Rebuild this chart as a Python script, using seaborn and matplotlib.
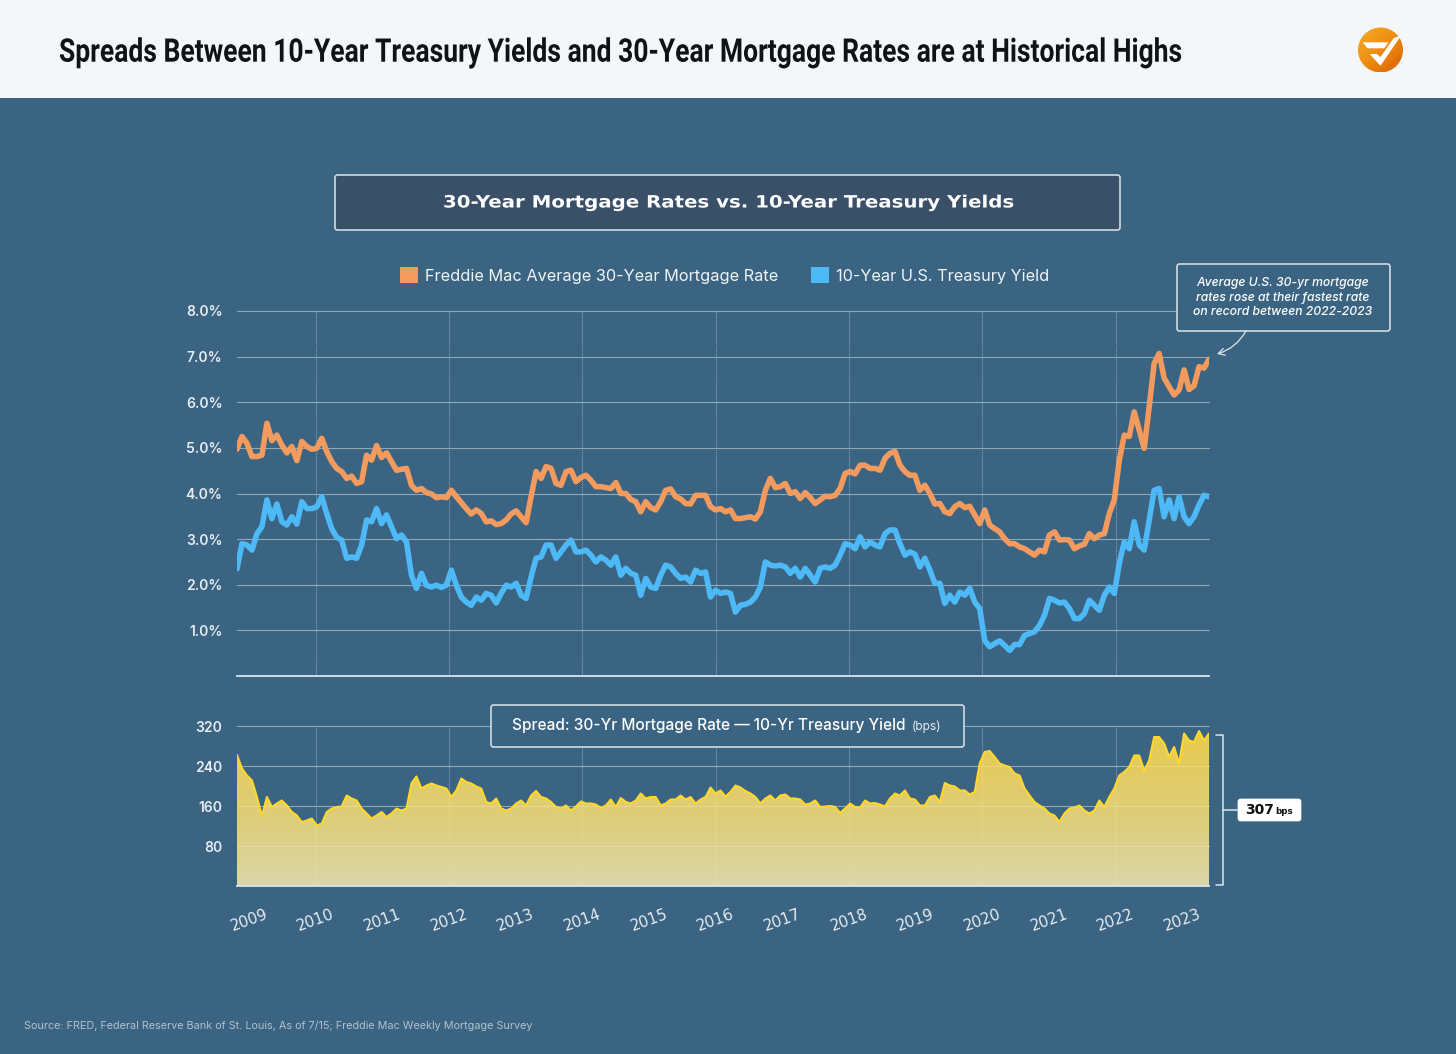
#!/usr/bin/env python3
# coding: utf-8
"""Mortgage rates vs treasury yields, with the spread panel underneath."""
import matplotlib as mpl
import matplotlib.pyplot as plt
import numpy as np
import seaborn as sns
from matplotlib.colors import LinearSegmentedColormap
from matplotlib.patches import Circle, FancyBboxPatch, Patch, PathPatch, Polygon, Rectangle
from matplotlib.patheffects import AbstractPathEffect
from matplotlib.transforms import Affine2D

mpl.use("Agg")

W, H = 1456, 1054
BG = "#3A6482"
ORANGE = "#F39B5E"
BLUE = "#4DB9F7"
YELLOW = "#FFD82A"
GRID = "#8FA8BA"
LIGHT = "#E6ECF1"

# x axis runs a little before the first label and after the last one
X_START, X_END = 2008.82, 2023.40

YEARS = list(range(2009, 2024))
GRID_YEARS = [2010, 2012, 2014, 2016, 2018, 2020, 2022]
RATE_TICKS = [1, 2, 3, 4, 5, 6, 7, 8]
SPREAD_TICKS = [80, 160, 240, 320]

MORTGAGE = [
    4.97, 5.25, 5.10, 4.81, 4.81, 4.84, 5.54, 5.16, 5.28, 5.06, 4.89, 5.03, 4.72, 5.14, 5.03, 4.97,
    4.99, 5.21, 4.92, 4.70, 4.55, 4.48, 4.33, 4.38, 4.22, 4.26, 4.84, 4.73, 5.05, 4.79, 4.89, 4.70,
    4.51, 4.53, 4.55, 4.18, 4.07, 4.11, 4.02, 3.99, 3.91, 3.93, 3.91, 4.07, 3.93, 3.80, 3.67, 3.55,
    3.64, 3.56, 3.38, 3.40, 3.32, 3.34, 3.42, 3.55, 3.62, 3.49, 3.36, 3.93, 4.48, 4.33, 4.59, 4.55,
    4.22, 4.18, 4.48, 4.51, 4.26, 4.35, 4.40, 4.29, 4.15, 4.15, 4.13, 4.11, 4.24, 4.00, 4.00, 3.87,
    3.82, 3.60, 3.82, 3.69, 3.64, 3.82, 4.07, 4.10, 3.93, 3.88, 3.78, 3.77, 3.96, 3.96, 3.96, 3.71,
    3.64, 3.67, 3.60, 3.64, 3.45, 3.45, 3.47, 3.49, 3.44, 3.60, 4.07, 4.33, 4.13, 4.15, 4.22, 4.00,
    4.04, 3.89, 4.02, 3.91, 3.78, 3.86, 3.94, 3.93, 3.96, 4.11, 4.44, 4.48, 4.43, 4.62, 4.62, 4.55,
    4.55, 4.51, 4.77, 4.88, 4.92, 4.62, 4.48, 4.40, 4.40, 4.07, 4.18, 4.00, 3.77, 3.78, 3.60, 3.56,
    3.71, 3.78, 3.69, 3.72, 3.53, 3.34, 3.64, 3.31, 3.23, 3.16, 3.01, 2.90, 2.90, 2.83, 2.79, 2.72,
    2.65, 2.76, 2.72, 3.09, 3.16, 2.98, 2.99, 2.98, 2.79, 2.85, 2.89, 3.12, 3.01, 3.09, 3.12, 3.56,
    3.86, 4.73, 5.28, 5.25, 5.79, 5.39, 4.99, 5.90, 6.85, 7.07, 6.53, 6.34, 6.16, 6.27, 6.71, 6.28,
    6.36, 6.78, 6.75, 6.94,
]

TREASURY = [
    2.35, 2.90, 2.87, 2.76, 3.12, 3.27, 3.86, 3.45, 3.77, 3.38, 3.31, 3.49, 3.33, 3.82, 3.67, 3.67,
    3.71, 3.93, 3.56, 3.23, 3.04, 2.98, 2.58, 2.61, 2.58, 2.87, 3.42, 3.38, 3.67, 3.34, 3.53, 3.27,
    3.01, 3.09, 2.94, 2.21, 1.92, 2.25, 1.99, 1.95, 1.99, 1.94, 1.99, 2.32, 1.99, 1.73, 1.62, 1.55,
    1.73, 1.66, 1.81, 1.77, 1.60, 1.81, 1.99, 1.95, 2.03, 1.77, 1.70, 2.17, 2.58, 2.61, 2.87, 2.87,
    2.58, 2.72, 2.87, 2.98, 2.72, 2.72, 2.76, 2.65, 2.50, 2.61, 2.54, 2.43, 2.61, 2.21, 2.36, 2.25,
    2.21, 1.77, 2.14, 1.95, 1.92, 2.21, 2.43, 2.39, 2.25, 2.14, 2.17, 2.06, 2.32, 2.25, 2.28, 1.73,
    1.88, 1.81, 1.84, 1.81, 1.40, 1.55, 1.57, 1.62, 1.73, 1.95, 2.50, 2.43, 2.41, 2.43, 2.39, 2.25,
    2.36, 2.17, 2.36, 2.21, 2.06, 2.36, 2.39, 2.36, 2.43, 2.65, 2.90, 2.87, 2.79, 3.05, 2.83, 2.94,
    2.87, 2.83, 3.12, 3.20, 3.20, 2.90, 2.65, 2.72, 2.67, 2.39, 2.58, 2.32, 2.03, 2.03, 1.59, 1.77,
    1.62, 1.84, 1.77, 1.92, 1.62, 1.48, 0.78, 0.64, 0.71, 0.77, 0.67, 0.56, 0.69, 0.69, 0.89, 0.93,
    0.97, 1.11, 1.33, 1.70, 1.66, 1.60, 1.62, 1.48, 1.26, 1.26, 1.37, 1.66, 1.55, 1.44, 1.77, 1.95,
    1.81, 2.47, 2.94, 2.79, 3.38, 2.87, 2.76, 3.42, 4.07, 4.11, 3.49, 3.86, 3.45, 3.93, 3.49, 3.34,
    3.49, 3.75, 3.96, 3.93,
]

SPREAD = [
    262, 235, 221, 211, 178, 140, 178, 158, 165, 171, 161, 148, 141, 128, 131, 135, 121, 125, 148,
    155, 158, 159, 181, 175, 171, 155, 145, 135, 141, 148, 138, 145, 155, 151, 155, 205, 219, 195,
    201, 205, 201, 198, 195, 178, 191, 215, 208, 205, 199, 195, 168, 165, 175, 155, 151, 155, 165,
    171, 161, 181, 190, 178, 175, 168, 158, 155, 161, 151, 159, 169, 165, 165, 163, 156, 161, 173,
    158, 176, 168, 165, 171, 185, 175, 178, 178, 161, 165, 173, 173, 181, 173, 178, 165, 173, 178,
    197, 185, 191, 179, 188, 201, 197, 190, 185, 178, 165, 175, 181, 171, 181, 183, 175, 175, 173,
    163, 165, 171, 158, 159, 160, 158, 146, 155, 165, 158, 157, 171, 165, 166, 163, 159, 175, 185,
    181, 191, 175, 173, 161, 161, 178, 181, 168, 206, 201, 199, 191, 191, 183, 188, 245, 268, 270,
    258, 245, 241, 238, 225, 221, 195, 181, 168, 161, 155, 145, 141, 128, 145, 155, 157, 161, 151,
    145, 151, 171, 158, 178, 195, 221, 228, 238, 261, 261, 231, 251, 298, 298, 285, 258, 278, 245,
    305, 291, 288, 310, 291, 305,
]

sns.set_style("ticks")
plt.rcParams["font.family"] = ["Inter", "DejaVu Sans"]


class StretchText(AbstractPathEffect):
    """Scale drawn glyphs about a display point, no condensed or extended font is installed."""

    def __init__(self, x0, y0, sx, sy):
        super().__init__()
        self._scale = Affine2D().translate(-x0, -y0).scale(sx, sy).translate(x0, y0)

    def draw_path(self, renderer, gc, tpath, affine, rgbFace=None):
        renderer.draw_path(gc, tpath, affine + self._scale, rgbFace)


def setup_axis(ax, ymax, ticks):
    ax.set_facecolor("none")
    ax.set_xlim(X_START, X_END)
    ax.set_ylim(0, ymax)
    ax.set_yticks(ticks)
    ax.tick_params(axis="y", length=0, pad=10.5, labelsize=10, labelcolor=LIGHT)
    ax.grid(axis="y", color=GRID, linewidth=0.8)
    for line in ax.get_ygridlines():
        line.set_clip_on(False)
    ax.vlines(GRID_YEARS, 0, ticks[-1], color=GRID, linewidth=0.7, linestyle=(0, (1, 1)), zorder=1)
    sns.despine(ax=ax, left=True)
    ax.spines["bottom"].set_color("#DCE5EB")
    ax.spines["bottom"].set_linewidth(1.3)
    ax.set_xlabel("")
    ax.set_ylabel("")


def rate_panel(fig):
    ax = fig.add_axes([237 / W, 1 - 676 / H, 972 / W, 365 / H])
    years = np.linspace(X_START, X_END, len(MORTGAGE))
    sns.lineplot(x=years, y=MORTGAGE, color=ORANGE, linewidth=4, ax=ax, zorder=3)
    sns.lineplot(x=years, y=TREASURY, color=BLUE, linewidth=4, ax=ax, zorder=3)
    setup_axis(ax, 8, RATE_TICKS)
    ax.set_yticks(RATE_TICKS, [f"{t:.1f}%" for t in RATE_TICKS], fontweight="semibold")
    ax.set_xticks([])
    return ax


def spread_panel(fig):
    ax = fig.add_axes([237 / W, 1 - 886 / H, 972 / W, 160 / H])
    years = np.linspace(X_START, X_END, len(SPREAD))
    setup_axis(ax, 320, SPREAD_TICKS)
    ax.set_yticks(SPREAD_TICKS, [str(t) for t in SPREAD_TICKS], fontweight="semibold")
    fill = ax.fill_between(years, SPREAD, 0, color="none", linewidth=0)
    cmap = LinearSegmentedColormap.from_list(
        "fade", ["#DCD6A9", "#DDCF82", "#E2CC66", "#EACB4C"]
    )
    grad = ax.imshow(
        np.linspace(0, 1, 256).reshape(-1, 1),
        cmap=cmap,
        origin="lower",
        aspect="auto",
        extent=(X_START, X_END, 0, 320),
        zorder=2,
    )
    patch = PathPatch(fill.get_paths()[0], transform=ax.transData, facecolor="none", edgecolor="none")
    ax.add_patch(patch)
    grad.set_clip_path(patch)
    # grid shows faintly through the fill
    faint = ax.hlines(SPREAD_TICKS, X_START, X_END, color="white", linewidth=0.8, alpha=0.22, zorder=2.5)
    faint.set_clip_path(patch)
    faint_v = ax.vlines(GRID_YEARS, 0, 320, color="white", linewidth=0.7, alpha=0.1, zorder=2.5)
    faint_v.set_clip_path(patch)
    sns.lineplot(x=years, y=SPREAD, color=YELLOW, linewidth=1.5, ax=ax, zorder=3)
    ax.set_xlim(X_START, X_END)
    ax.set_ylim(0, 320)
    ax.set_xticks(YEARS, [str(y) for y in YEARS], rotation=20, ha="center", rotation_mode="default")
    ax.tick_params(axis="x", length=0, pad=15, labelsize=11, labelcolor=LIGHT)
    for label in ax.get_xticklabels():
        label.set_fontfamily("DejaVu Sans")
    ax.vlines([X_END], 0, SPREAD[-1], color="#EFE9C8", linewidth=0.9, zorder=4)
    return ax


def rounded_box(ax, x0, y0, x1, y1, face, edge="#DDE6EC", lw=1.1, round_px=2.5, z=5):
    ax.add_patch(
        FancyBboxPatch(
            (x0, y0), x1 - x0, y1 - y0,
            boxstyle=f"round,pad=0,rounding_size={round_px}",
            facecolor=face, edgecolor=edge, linewidth=lw, zorder=z,
        )
    )


def draw_logo(ax, cx, cy, r):
    cmap = LinearSegmentedColormap.from_list("logo", ["#F3AE2A", "#EE8C12", "#DB6004"])
    ramp = np.linspace(0, 1, 64)
    img = ax.imshow(
        (ramp[:, None] + ramp[None, :]) / 2, cmap=cmap, aspect="auto",
        extent=(cx - r, cx + r, cy + r, cy - r), zorder=6,
    )
    disc = Circle((cx, cy), r, transform=ax.transData, facecolor="none", edgecolor="none")
    ax.add_patch(disc)
    img.set_clip_path(disc)
    # bar and check mark
    ax.add_patch(Polygon([(cx - 17.7, cy - 7.7), (cx + 8, cy - 7.7), (cx + 3.7, cy - 1.7), (cx - 13, cy - 1.7)],
                         facecolor="white", edgecolor="none", zorder=7))
    ax.add_patch(Polygon([(cx - 11, cy + 4), (cx - 3.7, cy + 4), (cx, cy + 7), (cx + 13, cy - 11.7),
                          (cx + 21, cy - 15), (cx, cy + 15.7)],
                         facecolor="white", edgecolor="none", zorder=7))


def decorations(fig):
    ax = fig.add_axes([0, 0, 1, 1], zorder=10)
    ax.set_axis_off()
    ax.patch.set_alpha(0)

    ax.add_patch(Rectangle((0, 0), W, 98, facecolor="#F4F7F9", edgecolor="none", zorder=1))
    title = ax.text(59, 61.7, "Spreads Between 10-Year Treasury Yields and 30-Year Mortgage Rates are at Historical Highs",
                    family="Roboto", fontweight="bold", fontsize=16.3,
                    color="#111215", va="baseline", ha="left", zorder=2)
    fig.canvas.draw()
    title_width = title.get_window_extent().width
    title.set_path_effects([StretchText(59, H - 61.7, 1124 / title_width, 1.44)])
    draw_logo(ax, 1380.5, 50, 22.5)

    rounded_box(ax, 335, 175, 1120, 230, "#3A5069")
    heading = ax.text(727.5, 207.5, "30-Year Mortgage Rates vs. 10-Year Treasury Yields", family="DejaVu Sans",
                      fontweight="bold", fontsize=12.2, color="white", ha="center", va="baseline", zorder=6)
    fig.canvas.draw()
    heading.set_path_effects([StretchText(727.5, H - 207.5, 569 / heading.get_window_extent().width, 1.0)])

    # annotation
    rounded_box(ax, 1177, 264, 1390, 331, BG)
    ax.text(1283, 297.5, "Average U.S. 30-yr mortgage\nrates rose at their fastest rate\non record between 2022-2023",
            fontstyle="italic", fontweight="medium", fontsize=8.75, color="white", ha="center", va="center",
            linespacing=1.27, zorder=6)
    ax.annotate("", xy=(1217, 354), xytext=(1246, 331),
                arrowprops=dict(arrowstyle="->,head_length=0.45,head_width=0.25", color="#DDE6EC", lw=0.9,
                                connectionstyle="arc3,rad=-0.2", shrinkA=0, shrinkB=0), zorder=6)

    # spread caption
    rounded_box(ax, 491, 705, 964, 747, BG)
    ax.text(512, 725.5, "Spread: 30-Yr Mortgage Rate — 10-Yr Treasury Yield", fontweight="medium",
            fontsize=11.1, color="white", ha="left", va="center", zorder=6)
    ax.text(912, 726.5, "(bps)", fontsize=8.6, color=LIGHT, ha="left", va="center", zorder=6)

    # bracket and end value
    ax.plot([1216, 1223, 1223, 1216], [735, 735, 885, 885], color="#DDE6EC", lw=1.1, zorder=6)
    ax.plot([1223, 1238], [810, 810], color="#DDE6EC", lw=1.1, zorder=6)
    rounded_box(ax, 1238, 799, 1301, 821, "white", edge="white", lw=0.5)
    ax.text(1245, 810, "307", family="DejaVu Sans", fontweight="bold", fontsize=10, color="#111111",
            ha="left", va="center", zorder=6)
    ax.text(1275, 811.5, "bps", family="DejaVu Sans", fontweight="bold", fontsize=6.3, color="#111111",
            ha="left", va="center", zorder=6)

    ax.text(24, 1026, "Source: FRED, Federal Reserve Bank of St. Louis, As of 7/15; Freddie Mac Weekly Mortgage Survey",
            fontsize=7.82, color="#B0C2CF", ha="left", va="center", zorder=6)

    ax.set_xlim(0, W)
    ax.set_ylim(H, 0)


def main():
    fig = plt.figure(figsize=(W / 100, H / 100), dpi=100, facecolor=BG)
    rate_panel(fig)
    spread_panel(fig)
    decorations(fig)
    handles = [
        Patch(facecolor=ORANGE, edgecolor="none", label="Freddie Mac Average 30-Year Mortgage Rate"),
        Patch(facecolor=BLUE, edgecolor="none", label="10-Year U.S. Treasury Yield"),
    ]
    leg = fig.legend(
        handles=handles, loc="center", bbox_to_anchor=(724.5 / W, 1 - 275.5 / H), ncol=2, frameon=False,
        handlelength=1.1, handleheight=1.1, handletextpad=0.43, columnspacing=2.0,
        fontsize=11.75, labelcolor="#F0F4F7",
    )
    leg.set_zorder(20)
    fig.savefig("out.png", dpi=100, facecolor=BG)
    plt.close()


if __name__ == "__main__":
    main()
